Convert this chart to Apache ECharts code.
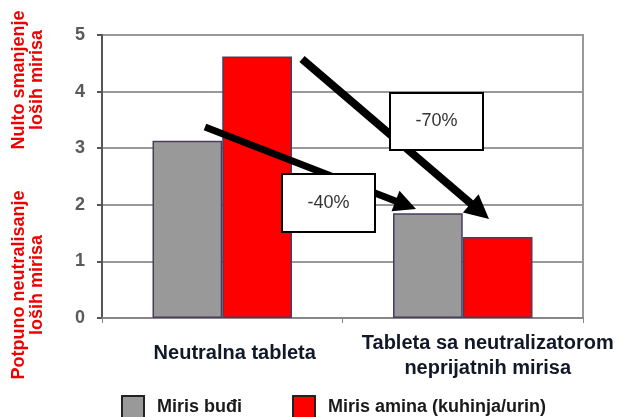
<!DOCTYPE html>
<html><head><meta charset="utf-8">
<script src="https://cdn.jsdelivr.net/npm/echarts@6/dist/echarts.min.js"></script>
<style>html,body{margin:0;padding:0;background:#fff}#c{width:621px;height:417px}</style>
</head><body><div id="c"></div>
<script>
var categories = ['Neutralna tableta', 'Tableta sa neutralizatorom\nneprijatnih mirisa'];
var seriesNames = ['Miris buđi', 'Miris amina (kuhinja/urin)'];
var buđi = [3.13, 1.85];
var amina = [4.62, 1.43];
var yTicks = [0, 1, 2, 3, 4, 5];
var changeLabels = ['-40%', '-70%'];

var chart = echarts.init(document.getElementById('c'));

function arrow(x1, y1, x2, y2, w, hl, hw) {
  var dx = x2 - x1, dy = y2 - y1, L = Math.sqrt(dx*dx + dy*dy);
  var ux = dx / L, uy = dy / L, px = -uy, py = ux;
  var bx = x2 - ux * hl, by = y2 - uy * hl;
  return [
    {type:'line', shape:{x1:x1, y1:y1, x2:bx + ux*2, y2:by + uy*2}, style:{stroke:'#000', lineWidth:w}, z:10},
    {type:'polygon', shape:{points:[[x2,y2],[bx+px*hw,by+py*hw],[bx-px*hw,by-py*hw]]}, style:{fill:'#000'}, z:10}
  ];
}
function box(x, y, w, h, t) {
  return {type:'group', z:20, children:[
    {type:'rect', shape:{x:x, y:y, width:w, height:h}, style:{fill:'#fff', stroke:'#000', lineWidth:2}, z:20},
    {type:'text', x:x + w/2, y:y + h/2, style:{text:t, fill:'#333', font:'18px "Liberation Sans", Arial', align:'center', verticalAlign:'middle'}, z:21}
  ]};
}

var sideFont = 'bold 18px "Liberation Sans", Arial';
var graphics = [].concat(
  arrow(205, 127, 416, 209, 7, 22, 11),
  arrow(302, 59, 489, 219, 8, 24, 12),
  [box(282, 174, 93, 58, changeLabels[0]), box(390, 93, 93, 57, changeLabels[1])],
  [
    {type:'text', x:28, y:80, rotation:Math.PI/2, style:{text:'Nulto smanjenje\nloših mirisa', fill:'#ee0000', font:sideFont, align:'center', verticalAlign:'middle', lineHeight:18}},
    {type:'text', x:28, y:285, rotation:Math.PI/2, style:{text:'Potpuno neutralisanje\nloših mirisa', fill:'#ee0000', font:sideFont, align:'center', verticalAlign:'middle', lineHeight:18}}
  ]
);

chart.setOption({
  animation:false,
  grid:{left:102, top:35, right:38, bottom:99, show:true, borderColor:'#999', borderWidth:2},
  legend:{
    top:395, left:121, padding:0, itemWidth:22, itemHeight:22, itemGap:50, icon:'rect',
    textStyle:{fontSize:18, fontWeight:'bold', color:'#1a1a1a', fontFamily:'Liberation Sans, Arial', padding:[0,0,0,8]},
    itemStyle:{borderColor:'#222', borderWidth:2},
    data:seriesNames
  },
  xAxis:{
    type:'category',
    data:[
      {value:categories[0], textStyle:{padding:[10,0,0,25]}},
      {value:categories[1], textStyle:{padding:[0,0,0,50]}}
    ],
    axisLine:{lineStyle:{color:'#888', width:2}},
    axisTick:{show:true, length:5, lineStyle:{color:'#888'}},
    axisLabel:{color:'#111827', fontSize:20, fontWeight:'bold', fontFamily:'Liberation Sans, Arial', margin:13, lineHeight:25, interval:0}
  },
  yAxis:{
    type:'value', min:0, max:5, interval:1,
    axisLine:{show:true, lineStyle:{color:'#555', width:2}},
    axisTick:{show:true, length:5, lineStyle:{color:'#555', width:2}},
    axisLabel:{color:'#5a5a5a', fontSize:18, fontWeight:'bold', fontFamily:'Liberation Sans, Arial', margin:17,
      formatter:function(v){ return yTicks.indexOf(v) >= 0 ? String(v) : ''; }},
    splitLine:{lineStyle:{color:'#999', width:2}}
  },
  series:[
    {name:seriesNames[0], type:'bar', data:buđi, barGap:'0%', barCategoryGap:'42%',
      itemStyle:{color:'#999999', borderColor:'#4a3c5e', borderWidth:1.5}},
    {name:seriesNames[1], type:'bar', data:amina,
      itemStyle:{color:'#ff0000', borderColor:'#4a3c5e', borderWidth:1.5}}
  ],
  graphic:graphics
});
</script></body></html>
